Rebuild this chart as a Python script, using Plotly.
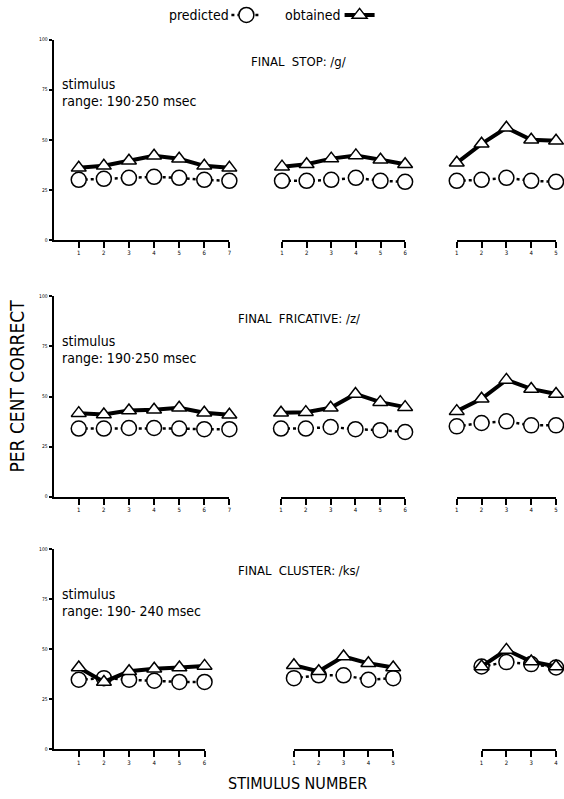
import plotly.graph_objects as go

# ---------------- data ----------------
stop_x1 = [1, 2, 3, 4, 5, 6, 7]
stop_pred1 = [30, 30.5, 31, 31.5, 31, 30, 29.5]
stop_obt1 = [36, 37, 39.5, 42, 40.5, 37, 36]
stop_x2 = [1, 2, 3, 4, 5, 6]
stop_pred2 = [29.5, 29.5, 30, 31, 29.5, 29]
stop_obt2 = [36.6, 37.8, 40.6, 42.2, 40, 37.8]
stop_x3 = [1, 2, 3, 4, 5]
stop_pred3 = [29.5, 30, 31, 29.5, 29]
stop_obt3 = [38.5, 48, 56, 50, 49.5]

fric_x1 = [1, 2, 3, 4, 5, 6, 7]
fric_pred1 = [34, 34, 34.3, 34.3, 34, 33.7, 33.7]
fric_obt1 = [41.7, 41, 43, 43.4, 44.4, 41.9, 40.9]
fric_x2 = [1, 2, 3, 4, 5, 6]
fric_pred2 = [34, 34, 34.8, 33.7, 33.2, 32.3]
fric_obt2 = [41.9, 42.2, 44.4, 51.3, 47.2, 44.7]
fric_x3 = [1, 2, 3, 4, 5]
fric_pred3 = [35.1, 36.8, 37.6, 35.6, 35.6]
fric_obt3 = [42.7, 48.9, 58.3, 53.8, 51.3]

clus_x1 = [1, 2, 3, 4, 5, 6]
clus_pred1 = [34.8, 35.6, 34.8, 34.3, 33.7, 33.7]
clus_obt1 = [40.9, 33.7, 39, 40.3, 40.9, 41.7]
clus_x2 = [1, 2, 3, 4, 5]
clus_pred2 = [35.6, 37, 37, 34.8, 35.6]
clus_obt2 = [42, 39, 46.4, 43, 40.9]
clus_x3 = [1, 2, 3, 4]
clus_pred3 = [41.4, 43.6, 42.6, 40.9]
clus_obt3 = [41.4, 49.7, 43.9, 41.4]

y_ticks = [0, 25, 50, 75, 100]
y_ticklabels = ["0", "25", "50", "75", "100"]

row_titles = ["FINAL  STOP: /g/", "FINAL  FRICATIVE: /z/", "FINAL  CLUSTER: /ks/"]
row_ranges = ["range: 190\u00b7250 msec", "range: 190\u00b7250 msec", "range: 190- 240 msec"]

panels = [
    [(stop_x1, stop_pred1, stop_obt1), (stop_x2, stop_pred2, stop_obt2), (stop_x3, stop_pred3, stop_obt3)],
    [(fric_x1, fric_pred1, fric_obt1), (fric_x2, fric_pred2, fric_obt2), (fric_x3, fric_pred3, fric_obt3)],
    [(clus_x1, clus_pred1, clus_obt1), (clus_x2, clus_pred2, clus_obt2), (clus_x3, clus_pred3, clus_obt3)],
]

# ---------------- layout geometry (pixels) ----------------
W, H = 564, 799
FONT = "DejaVu Sans Condensed, Liberation Sans Narrow, Arial Narrow, Liberation Sans, sans-serif"
row_px = [(36, 238), (295, 497), (550, 752)]          # (top=100, bottom=0)
col_px = [
    [(52, 229, [0, 7]), (282, 406, [1, 6]), (458, 558, [1, 5])],
    [(52, 229, [0, 7]), (281, 406, [1, 6]), (458, 558, [1, 5])],
    [(52, 204, [0, 6]), (294, 394, [1, 5]), (483, 558, [1, 4])],
]

def px(x):
    return x / W

def py(y):
    return 1 - y / H

fig = go.Figure()
layout = {}
k = 0
for r in range(3):
    top, bot = row_px[r]
    for c in range(3):
        k += 1
        xs, pred, obt = panels[r][c]
        x0, x1, rng = col_px[r][c]
        xa = "xaxis" if k == 1 else f"xaxis{k}"
        ya = "yaxis" if k == 1 else f"yaxis{k}"
        xr = "x" if k == 1 else f"x{k}"
        yr = "y" if k == 1 else f"y{k}"
        tickvals = list(range(1, rng[1] + 1))
        layout[xa] = dict(
            domain=[px(x0), px(x1)], range=rng, anchor=yr,
            showline=True, linewidth=2, linecolor="black", mirror=False,
            showgrid=False, zeroline=False,
            ticks="outside", ticklen=6, tickwidth=2, tickcolor="black",
            tickvals=tickvals, ticktext=[str(v) for v in tickvals],
            tickfont=dict(size=6, family=FONT, color="black"),
            fixedrange=True,
        )
        layout[ya] = dict(
            domain=[py(bot), py(top)], range=[0, 100], anchor=xr,
            visible=(c == 0),
            showline=True, linewidth=2, linecolor="black",
            showgrid=False, zeroline=False,
            ticks="outside", ticklen=3, tickwidth=1.5, tickcolor="black",
            tickvals=y_ticks, ticktext=y_ticklabels,
            tickfont=dict(size=5, family=FONT, color="black"),
            fixedrange=True,
        )
        first = (k == 1)
        fig.add_trace(go.Scatter(
            x=xs, y=pred, xaxis=xr, yaxis=yr, mode="lines+markers",
            name="", showlegend=first, legend="legend",
            line=dict(color="black", width=2.5, dash="dot"),
            marker=dict(symbol="circle", size=15, color="white",
                        line=dict(color="black", width=1.5)),
            cliponaxis=False,
        ))
        fig.add_trace(go.Scatter(
            x=xs, y=obt, xaxis=xr, yaxis=yr, mode="lines+markers",
            name="", showlegend=first, legend="legend2",
            line=dict(color="black", width=4),
            marker=dict(symbol="triangle-up", size=13, color="white",
                        line=dict(color="black", width=1.5)),
            cliponaxis=False,
        ))

annotations = []
for r in range(3):
    top, bot = row_px[r]
    annotations.append(dict(
        x=px(299), y=py(top + 22), xref="paper", yref="paper",
        text=row_titles[r], showarrow=False, xanchor="center", yanchor="middle",
        font=dict(size=13, family=FONT, color="black")))
    annotations.append(dict(
        x=px(58), y=py(top + 45), xref="paper", yref="paper",
        text="stimulus", showarrow=False, xanchor="left", yanchor="middle",
        font=dict(size=14, family=FONT, color="black")))
    annotations.append(dict(
        x=px(58), y=py(top + 62), xref="paper", yref="paper",
        text=row_ranges[r], showarrow=False, xanchor="left", yanchor="middle",
        font=dict(size=14, family=FONT, color="black")))

annotations.append(dict(
    x=px(15), y=py(385), xref="paper", yref="paper", text="PER CENT CORRECT",
    textangle=-90, showarrow=False, xanchor="center", yanchor="middle",
    font=dict(size=19, family=FONT, color="black")))
annotations.append(dict(
    x=px(298), y=py(786), xref="paper", yref="paper", text="STIMULUS NUMBER",
    showarrow=False, xanchor="center", yanchor="middle",
    font=dict(size=16, family=FONT, color="black")))
annotations.append(dict(
    x=px(231), y=py(11), xref="paper", yref="paper", text="predicted",
    showarrow=False, xanchor="right", yanchor="middle",
    font=dict(size=14, family=FONT, color="black")))
annotations.append(dict(
    x=px(343), y=py(11), xref="paper", yref="paper", text="obtained",
    showarrow=False, xanchor="right", yanchor="middle",
    font=dict(size=14, family=FONT, color="black")))

fig.update_layout(
    width=W, height=H,
    margin=dict(l=0, r=0, t=0, b=0),
    paper_bgcolor="white", plot_bgcolor="white",
    showlegend=True,
    legend=dict(x=px(226), y=py(11), xanchor="left", yanchor="middle",
                bgcolor="rgba(0,0,0,0)", itemwidth=30, font=dict(size=2),
                orientation="h"),
    legend2=dict(x=px(340), y=py(11), xanchor="left", yanchor="middle",
                 bgcolor="rgba(0,0,0,0)", itemwidth=30, font=dict(size=2),
                 orientation="h"),
    annotations=annotations,
    **layout,
)

fig.write_html("out.html")
